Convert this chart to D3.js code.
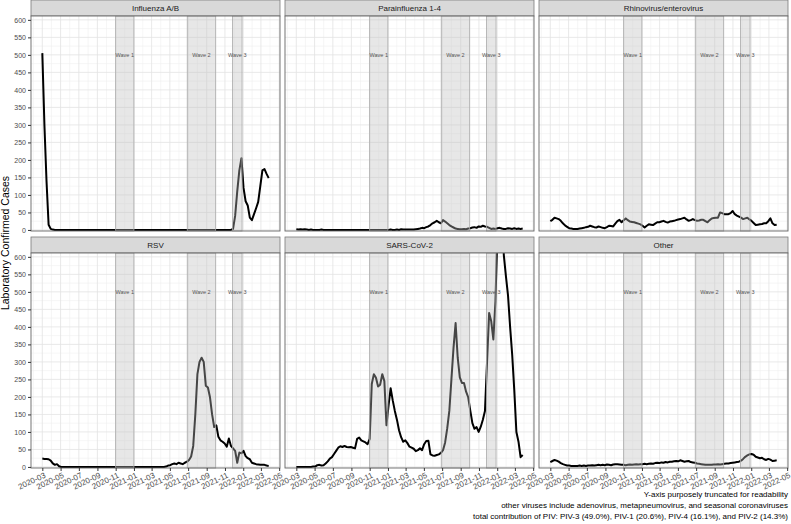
<!DOCTYPE html>
<html lang="en">
<head>
<meta charset="UTF-8">
<title>Laboratory Confirmed Cases by virus</title>
<script src="https://d3js.org/d3.v7.min.js"></script>
<style>
  body { margin: 0; background: #fff; font-family: "Liberation Sans", Arial, sans-serif; }
  svg { display: block; }
  .axis text { fill: #4d4d4d; }
  .axis line { stroke: #333; }
</style>
</head>
<body>
<svg width="791" height="524"></svg>
<script>
// weekly counts, first week starts 2020-03-01
const firstWeek = "2020-03-01";

const influenza = [
  505, 300, 140, 15, 3, 1, 0, 0, 0, 0,
  0, 0, 0, 0, 0, 0, 0, 0, 0, 0,
  0, 0, 0, 0, 0, 0, 0, 0, 0, 0,
  0, 0, 0, 0, 0, 0, 0, 0, 0, 0,
  0, 0, 0, 0, 0, 0, 0, 0, 0, 0,
  0, 0, 0, 0, 0, 0, 0, 0, 0, 0,
  0, 0, 0, 0, 0, 0, 0, 0, 0, 0,
  0, 0, 0, 0, 0, 0, 0, 0, 0, 0,
  0, 0, 0, 0, 0, 0, 0, 0, 0, 0,
  0, 3, 40, 110, 170, 205, 120, 82, 70, 35,
  28, 45, 62, 80, 125, 170, 174, 160, 148
];
const parainfluenza = [
  2, 1, 2, 1, 2, 1, 0, 1, 0, 0,
  0, 0, 1, 0, 0, 0, 0, 0, 0, 0,
  0, 0, 0, 0, 0, 0, 0, 0, 0, 0,
  0, 0, 0, 0, 0, 0, 0, 0, 0, 0,
  0, 0, 0, 0, 0, 1, 0, 0, 1, 0,
  2, 1, 1, 1, 1, 1, 1, 2, 3, 4,
  6, 5, 8, 10, 14, 19, 22, 26, 22, 19,
  28, 24, 19, 14, 10, 7, 4, 3, 2, 2,
  3, 2, 4, 5, 7, 8, 6, 10, 9, 12,
  10, 9, 6, 3, 4, 3, 5, 6, 4, 3,
  3, 5, 4, 3, 5, 3, 4, 3, 4
];
const rhinovirus = [
  25, 29, 35, 33, 31, 26, 19, 13, 9, 5,
  4, 3, 3, 3, 4, 5, 6, 8, 9, 12,
  10, 8, 7, 10, 8, 6, 5, 8, 12, 11,
  10, 18, 25, 29, 22, 28, 33, 28, 24, 23,
  22, 20, 18, 16, 12, 7, 12, 16, 15, 14,
  18, 22, 22, 24, 26, 23, 21, 24, 25, 26,
  28, 30, 31, 33, 35, 30, 26, 28, 31, 28,
  26, 27, 29, 29, 25, 22, 28, 33, 34, 35,
  35, 50, 48, 45, 45, 45, 48, 54, 45, 41,
  38, 35, 31, 33, 35, 30, 26, 20, 14, 15,
  16, 17, 19, 19, 25, 33, 19, 14, 15
];
const rsv = [
  24, 23, 23, 22, 18, 10, 6, 8, 2, 0,
  0, 0, 0, 0, 0, 0, 0, 0, 0, 0,
  0, 0, 0, 0, 0, 0, 0, 0, 0, 0,
  0, 0, 0, 0, 0, 0, 0, 0, 0, 0,
  0, 0, 0, 0, 0, 0, 0, 0, 0, 0,
  0, 0, 0, 0, 0, 0, 0, 0, 0, 1,
  4, 5, 8, 10, 8, 12, 10, 8, 12, 15,
  20, 30, 60, 150, 265, 300, 312, 300, 232, 227,
  199, 150, 114, 119, 86, 76, 72, 67, 58, 81,
  60, 53, 46, 12, 41, 39, 46, 31, 25, 22,
  12, 10, 8, 7, 6, 6, 6, 4, 3
];
const sarsCov2 = [
  0, 0, 0, 0, 0, 0, 0, 0, 1, 1,
  5, 6, 4, 5, 10, 16, 24, 28, 37, 46,
  55, 59, 57, 60, 57, 56, 57, 55, 53, 80,
  84, 76, 73, 70, 65, 80, 237, 265, 255, 230,
  235, 265, 245, 119, 175, 225, 190, 160, 135, 105,
  85, 72, 76, 68, 58, 55, 52, 45, 48, 53,
  48, 65, 74, 75, 36, 33, 32, 34, 36, 40,
  48, 70, 110, 160, 250, 340, 411, 312, 256, 240,
  240, 215, 199, 161, 125, 109, 114, 100, 115, 135,
  160, 300, 440, 416, 364, 473, 680, 820, 760, 605,
  545, 490, 400, 320, 218, 100, 72, 28, 34
];
const other = [
  14, 17, 20, 18, 15, 11, 8, 6, 4, 4,
  3, 3, 3, 3, 4, 3, 4, 3, 4, 4,
  5, 4, 5, 6, 5, 6, 5, 7, 6, 5,
  7, 8, 8, 7, 6, 6, 5, 6, 7, 6,
  7, 8, 7, 8, 8, 9, 8, 9, 10, 9,
  11, 12, 11, 13, 12, 14, 13, 15, 15, 16,
  17, 16, 19, 17, 15, 16, 17, 14, 13, 12,
  10, 9, 8, 7, 6, 6, 6, 6, 7, 7,
  8, 7, 8, 9, 10, 10, 11, 12, 13, 14,
  15, 18, 23, 29, 33, 36, 37, 35, 29, 27,
  25, 26, 22, 20, 23, 21, 17, 18, 19
];

const panelNames = ["Influenza A/B", "Parainfluenza 1-4", "Rhinovirus/enterovirus", "RSV", "SARS-CoV-2", "Other"];
const panelSeries = [influenza, parainfluenza, rhinovirus, rsv, sarsCov2, other];

const waveLabels = ["Wave 1", "Wave 2", "Wave 3"];
const waveStarts = ["2020-11-01", "2021-06-28", "2021-11-26"];
const waveEnds = ["2021-01-01", "2021-10-01", "2021-12-28"];

const yTicks = [0, 50, 100, 150, 200, 250, 300, 350, 400, 450, 500, 550, 600];
const xTickLabels = ["2020-03", "2020-05", "2020-07", "2020-09", "2020-11", "2021-01", "2021-03",
  "2021-05", "2021-07", "2021-09", "2021-11", "2022-01", "2022-03", "2022-05"];

const captionLines = [
  "Y-axis purposely truncated for readability",
  "other viruses include adenovirus, metapneumovirus, and seasonal coronaviruses",
  "total contribution of PIV: PIV-3 (49.0%), PIV-1 (20.6%), PIV-4 (16.1%), and PIV-2 (14.3%)"
];

// layout
const colX = [31, 285, 539];
const rowY = [0, 237];
const panelW = 249, stripH = 16, panelH = 215;

const parseDay = d3.timeParse("%Y-%m-%d");
const parseMonth = d3.timeParse("%Y-%m");
const t0 = parseDay(firstWeek);
const weeks = influenza.map((_, i) => d3.timeWeek.offset(t0, i));
const t1 = weeks[weeks.length - 1];
const pad = (t1 - t0) * 0.05;

const x = d3.scaleTime()
  .domain([new Date(+t0 - pad), new Date(+t1 + pad)])
  .range([0, panelW]);
const y = d3.scaleLinear().domain([-3, 611]).range([panelH, 0]);

const xTicks = xTickLabels.map(parseMonth);
// minor breaks halfway between the majors
const xMinor = [];
for (let i = -1; i < xTicks.length; i++) {
  const a = i < 0 ? d3.timeMonth.offset(xTicks[0], -2) : xTicks[i];
  const b = i + 1 < xTicks.length ? xTicks[i + 1] : d3.timeMonth.offset(a, 2);
  const m = new Date((+a + +b) / 2);
  if (m >= x.domain()[0] && m <= x.domain()[1]) xMinor.push(m);
}
const yMinor = yTicks.slice(0, -1).map(v => v + 25);

const svg = d3.select("svg");

const line = d3.line()
  .x((d, i) => x(weeks[i]))
  .y(d => y(d));

panelNames.forEach((name, p) => {
  const col = p % 3, row = Math.floor(p / 3);
  const g = svg.append("g")
    .attr("transform", `translate(${colX[col]},${rowY[row]})`);

  // strip
  g.append("rect")
    .attr("width", panelW).attr("height", stripH)
    .attr("fill", "#d9d9d9").attr("stroke", "#7a7a7a").attr("stroke-width", 0.8);
  g.append("text")
    .attr("x", panelW / 2).attr("y", stripH / 2 + 3)
    .attr("text-anchor", "middle")
    .attr("font-size", 8).attr("fill", "#1a1a1a")
    .text(name);

  const pg = g.append("g").attr("transform", `translate(0,${stripH})`);

  pg.append("clipPath").attr("id", "clip" + p)
    .append("rect").attr("width", panelW).attr("height", panelH);

  pg.append("rect").attr("width", panelW).attr("height", panelH).attr("fill", "#fff");

  const grid = pg.append("g");
  grid.selectAll(".xmin").data(xMinor).join("line")
    .attr("x1", d => x(d)).attr("x2", d => x(d))
    .attr("y1", 0).attr("y2", panelH)
    .attr("stroke", "#f0f0f0").attr("stroke-width", 0.6);
  grid.selectAll(".ymin").data(yMinor).join("line")
    .attr("x1", 0).attr("x2", panelW)
    .attr("y1", d => y(d)).attr("y2", d => y(d))
    .attr("stroke", "#f0f0f0").attr("stroke-width", 0.6);
  grid.selectAll(".xmaj").data(xTicks).join("line")
    .attr("x1", d => x(d)).attr("x2", d => x(d))
    .attr("y1", 0).attr("y2", panelH)
    .attr("stroke", "#e3e3e3").attr("stroke-width", 0.8);
  grid.selectAll(".ymaj").data(yTicks).join("line")
    .attr("x1", 0).attr("x2", panelW)
    .attr("y1", d => y(d)).attr("y2", d => y(d))
    .attr("stroke", "#e3e3e3").attr("stroke-width", 0.8);

  pg.append("path")
    .datum(panelSeries[p])
    .attr("clip-path", `url(#clip${p})`)
    .attr("fill", "none")
    .attr("stroke", "#000")
    .attr("stroke-width", 2)
    .attr("stroke-linejoin", "round")
    .attr("d", line);

  // wave shading on top of the line
  waveLabels.forEach((lab, w) => {
    const xa = x(parseDay(waveStarts[w])), xb = x(parseDay(waveEnds[w]));
    pg.append("rect")
      .attr("x", xa).attr("y", y(611))
      .attr("width", xb - xa).attr("height", y(-3) - y(611))
      .attr("fill", "#bdbdbd").attr("fill-opacity", 0.37)
      .attr("stroke", "#aaa").attr("stroke-width", 0.8);
    pg.append("text")
      .attr("x", (xa + xb) / 2).attr("y", y(500) + 2)
      .attr("text-anchor", "middle")
      .attr("font-size", 5.5).attr("fill", "#555")
      .text(lab);
  });

  pg.append("rect")
    .attr("width", panelW).attr("height", panelH)
    .attr("fill", "none").attr("stroke", "#666").attr("stroke-width", 0.9);

  if (col === 0) {
    const ya = pg.append("g").attr("class", "axis")
      .call(d3.axisLeft(y).tickValues(yTicks).tickSize(3).tickPadding(2));
    ya.select(".domain").remove();
    ya.selectAll("text").attr("font-size", 7);
  }
  if (row === 1) {
    const xa = pg.append("g").attr("class", "axis")
      .attr("transform", `translate(0,${panelH})`)
      .call(d3.axisBottom(x).tickValues(xTicks).tickSize(3).tickFormat(d3.timeFormat("%Y-%m")));
    xa.select(".domain").remove();
    xa.selectAll("text")
      .attr("font-size", 8)
      .attr("x", 0).attr("y", 0).attr("dy", "0.72em")
      .attr("text-anchor", "end")
      .attr("transform", "translate(1,4) rotate(-25)");
  }
});

svg.append("text")
  .attr("transform", "translate(9,243) rotate(-90)")
  .attr("text-anchor", "middle")
  .attr("font-size", 10.5).attr("fill", "#000")
  .text("Laboratory Confirmed Cases");

svg.selectAll(".caption").data(captionLines).join("text")
  .attr("class", "caption")
  .attr("x", 788).attr("y", (d, i) => 497 + i * 11)
  .attr("text-anchor", "end")
  .attr("font-size", 8).attr("fill", "#000")
  .text(d => d);
</script>
</body>
</html>
